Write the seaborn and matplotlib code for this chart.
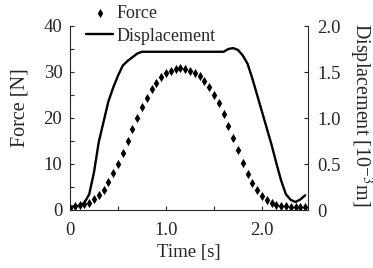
import numpy as np
import matplotlib
matplotlib.use("Agg")
import matplotlib.pyplot as plt
import seaborn as sns
from matplotlib.ticker import MultipleLocator, FuncFormatter

time = [round(0.05 * i, 2) for i in range(50)]
force = [0.5, 0.9, 1.1, 1.3, 1.6, 2.3, 3.2, 4.3, 6.0, 8.0,
         10.0, 12.5, 15.0, 17.6, 20.1, 22.5, 24.4, 26.2, 27.7, 29.0,
         29.7, 30.3, 30.65, 30.8, 30.65, 30.3, 29.85, 29.2, 28.1, 26.8,
         25.1, 23.2, 20.9, 18.3, 15.7, 13.0, 10.3, 7.9, 5.8, 4.3,
         3.0, 2.2, 1.6, 1.15, 0.87, 0.8, 0.7, 0.7, 0.7, 0.7]
displacement = [0.036, 0.04, 0.045, 0.08, 0.17, 0.41, 0.74, 0.96, 1.18, 1.33,
                1.46, 1.57, 1.62, 1.66, 1.70, 1.72, 1.72, 1.72, 1.72, 1.72,
                1.72, 1.72, 1.72, 1.72, 1.72, 1.72, 1.72, 1.72, 1.72, 1.72,
                1.72, 1.72, 1.72, 1.75, 1.76, 1.74, 1.68, 1.59, 1.43, 1.25,
                1.07, 0.89, 0.71, 0.51, 0.32, 0.17, 0.11, 0.087, 0.114, 0.16]

sns.set_style("ticks")
plt.rcParams['font.family'] = ['Liberation Serif', 'DejaVu Serif']
plt.rcParams['mathtext.fontset'] = 'stix'
tick_fs = 13.5
label_fs = 14.5
legend_fs = 13

fig = plt.figure(figsize=(3.73, 2.68), dpi=100)
ax = fig.add_axes([70/373, 58/268, 238/373, 184/268])
ax2 = ax.twinx()

sns.scatterplot(x=time, y=force, ax=ax, marker='d', s=22, color='black',
                linewidth=0, label='Force', legend=False)
sns.lineplot(x=time, y=displacement, ax=ax2, color='black', linewidth=1.7,
             label='Displacement', legend=False)

fmt = FuncFormatter(lambda v, p: '0' if abs(v) < 1e-9 else f'{v:.1f}')

ax.set_xlim(0, 2.48)
ax.set_ylim(0, 40)
ax2.set_ylim(0, 2.0)
ax.xaxis.set_major_locator(MultipleLocator(1.0))
ax.xaxis.set_minor_locator(MultipleLocator(0.5))
ax.xaxis.set_major_formatter(fmt)
ax.yaxis.set_major_locator(MultipleLocator(10))
ax.yaxis.set_minor_locator(MultipleLocator(5))
ax2.yaxis.set_major_locator(MultipleLocator(0.5))
ax2.yaxis.set_major_formatter(fmt)

for a in (ax, ax2):
    a.spines['top'].set_visible(False)
    a.tick_params(which='both', direction='in', length=3, width=0.8, labelsize=tick_fs)
    for s in a.spines.values():
        s.set_linewidth(0.8)
ax.spines['right'].set_visible(False)
ax2.spines['left'].set_visible(False)
ax2.spines['bottom'].set_visible(False)
ax.tick_params(axis='x', pad=8.5)
ax.tick_params(axis='y', pad=5.5)
ax2.tick_params(axis='y', pad=6.5)

ax.set_xlabel('Time [s]', fontsize=tick_fs)
ax.xaxis.set_label_coords(0.5, -0.185)
ax.set_ylabel('Force [N]', fontsize=label_fs)
ax.yaxis.set_label_coords(-0.172, 0.554)
ax2.set_ylabel('Displacement [10$^{-3}$m]', fontsize=label_fs, rotation=270,
               va='bottom')
ax2.yaxis.set_label_coords(1.165, 0.516)

h1, l1 = ax.get_legend_handles_labels()
h2, l2 = ax2.get_legend_handles_labels()
fig.legend(h1 + h2, l1 + l2, loc='upper left', bbox_to_anchor=(86/373, 0.981),
           frameon=False, borderpad=0.0, borderaxespad=0, handlelength=1.5,
           handletextpad=0.2, labelspacing=0.3, fontsize=legend_fs)

fig.savefig('out.png', dpi=100)
